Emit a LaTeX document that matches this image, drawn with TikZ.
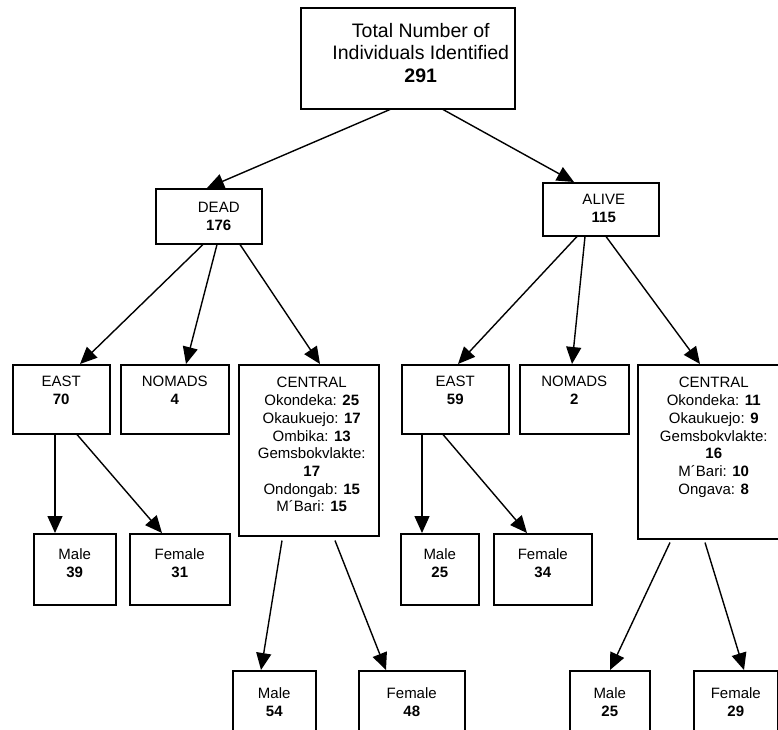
\documentclass[tikz,border=0pt]{standalone}
\usepackage{fontspec}
\setmainfont{Liberation Sans}
\usetikzlibrary{arrows.meta}
\tikzset{
  box/.style={draw, line width=1.5pt, rectangle, anchor=north west, inner sep=0pt},
  txt/.style={anchor=north, align=center, inner sep=0pt, font=\fontsize{15}{17.7}\selectfont},
  conn/.style={line width=1.4pt, -{Triangle[length=17pt,width=15pt]}}
}
\begin{document}
\begin{tikzpicture}[x=1pt,y=-1pt]
\clip (0,0) rectangle (778,729);
% boxes
\node[box, minimum width=214pt, minimum height=101pt] (top) at (300,7) {};
\node[box, minimum width=106pt, minimum height=55pt] (dead) at (155,188) {};
\node[box, minimum width=116pt, minimum height=53pt] (alive) at (542,182) {};
\node[box, minimum width=97pt, minimum height=69pt] (eastL) at (12,364) {};
\node[box, minimum width=108pt, minimum height=69pt] (nomL) at (120,364) {};
\node[box, minimum width=140pt, minimum height=171pt] (cenL) at (238,364) {};
\node[box, minimum width=107pt, minimum height=69pt] (eastR) at (401,364) {};
\node[box, minimum width=109pt, minimum height=69pt] (nomR) at (519,364) {};
\node[box, minimum width=152pt, minimum height=174pt] (cenR) at (637,364) {};
\node[box, minimum width=82pt, minimum height=71pt] (m39) at (33,533) {};
\node[box, minimum width=100pt, minimum height=71pt] (f31) at (129,533) {};
\node[box, minimum width=78pt, minimum height=71pt] (m25a) at (400,533) {};
\node[box, minimum width=98pt, minimum height=71pt] (f34) at (493,533) {};
\node[box, minimum width=83pt, minimum height=80pt] (m54) at (232,670) {};
\node[box, minimum width=106pt, minimum height=80pt] (f48) at (358,670) {};
\node[box, minimum width=80pt, minimum height=80pt] (m25b) at (569,670) {};
\node[box, minimum width=84pt, minimum height=80pt] (f29) at (693,670) {};
% texts
\node[txt, font=\fontsize{19.5}{22.7}\selectfont] at ([xshift=13pt,yshift=-15.8pt]top.north) {Total Number of\\Individuals Identified\\\textbf{291}};
\node[txt] at ([xshift=10pt,yshift=-14pt]dead.north) {DEAD\\\textbf{176}};
\node[txt] at ([xshift=3pt,yshift=-12.3pt]alive.north) {ALIVE\\\textbf{115}};
\node[txt] at ([yshift=-12.3pt]eastL.north) {EAST\\\textbf{70}};
\node[txt] at ([yshift=-12.3pt]nomL.north) {NOMADS\\\textbf{4}};
\node[txt] at ([xshift=3pt,yshift=-13.3pt]cenL.north) {CENTRAL\\Okondeka: \textbf{25}\\Okaukuejo: \textbf{17}\\Ombika: \textbf{13}\\Gemsbokvlakte:\\\textbf{17}\\Ondongab: \textbf{15}\\M\textasciiacute Bari: \textbf{15}};
\node[txt] at ([yshift=-12.3pt]eastR.north) {EAST\\\textbf{59}};
\node[txt] at ([yshift=-12.3pt]nomR.north) {NOMADS\\\textbf{2}};
\node[txt] at ([yshift=-13.3pt]cenR.north) {CENTRAL\\Okondeka: \textbf{11}\\Okaukuejo: \textbf{9}\\Gemsbokvlakte:\\\textbf{16}\\M\textasciiacute Bari: \textbf{10}\\Ongava: \textbf{8}};
\node[txt] at ([yshift=-15.3pt]m39.north) {Male\\\textbf{39}};
\node[txt] at ([yshift=-15.3pt]f31.north) {Female\\\textbf{31}};
\node[txt] at ([yshift=-15.3pt]m25a.north) {Male\\\textbf{25}};
\node[txt] at ([yshift=-15.3pt]f34.north) {Female\\\textbf{34}};
\node[txt] at ([yshift=-17.3pt]m54.north) {Male\\\textbf{54}};
\node[txt] at ([yshift=-17.3pt]f48.north) {Female\\\textbf{48}};
\node[txt] at ([yshift=-17.3pt]m25b.north) {Male\\\textbf{25}};
\node[txt] at ([yshift=-17.3pt]f29.north) {Female\\\textbf{29}};
% connectors
\draw[conn] ([xshift=90pt]top.south west) -- ([xshift=52pt]dead.north west);
\draw[conn] ([xshift=143pt]top.south west) -- ([xshift=32pt]alive.north west);
\draw[conn] ([xshift=48pt]dead.south west) -- ([xshift=68pt]eastL.north west);
\draw[conn] ([xshift=62pt]dead.south west) -- ([xshift=66pt]nomL.north west);
\draw[conn] ([xshift=85pt]dead.south west) -- ([xshift=82pt]cenL.north west);
\draw[conn] ([xshift=35pt]alive.south west) -- ([xshift=57pt]eastR.north west);
\draw[conn] ([xshift=43pt]alive.south west) -- ([xshift=53pt]nomR.north west);
\draw[conn] ([xshift=64pt]alive.south west) -- ([xshift=63pt]cenR.north west);
\draw[conn] ([xshift=43pt]eastL.south west) -- ([xshift=22pt]m39.north west);
\draw[conn] ([xshift=65pt]eastL.south west) -- ([xshift=33pt]f31.north west);
\draw[conn] ([xshift=21pt]eastR.south west) -- ([xshift=22pt]m25a.north west);
\draw[conn] ([xshift=42pt]eastR.south west) -- ([xshift=34pt]f34.north west);
\draw[conn] ([xshift=44pt,yshift=-4pt]cenL.south west) -- ([xshift=29pt]m54.north west);
\draw[conn] ([xshift=97pt,yshift=-4pt]cenL.south west) -- ([xshift=28pt]f48.north west);
\draw[conn] ([xshift=33pt,yshift=-3pt]cenR.south west) -- ([xshift=41pt]m25b.north west);
\draw[conn] ([xshift=68pt,yshift=-3pt]cenR.south west) -- ([xshift=51pt]f29.north west);
\end{tikzpicture}
\end{document}
